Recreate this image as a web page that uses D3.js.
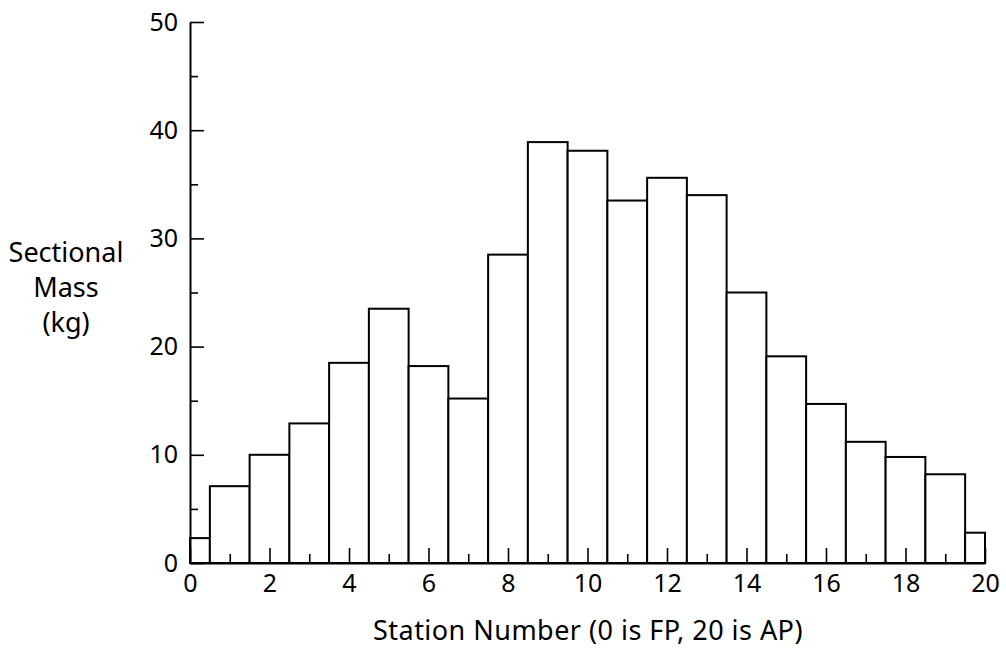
<!DOCTYPE html>
<html><head><meta charset="utf-8">
<script src="https://cdn.jsdelivr.net/npm/d3@7"></script>
<style>body{margin:0;background:#fff}text{font-family:"Noto Sans",sans-serif;fill:#000}</style>
</head><body><svg id="c" width="1006" height="651"></svg>
<script>
const stations = [0,1,2,3,4,5,6,7,8,9,10,11,12,13,14,15,16,17,18,19,20];
const mass = [2.3,7.1,10.0,12.9,18.5,23.5,18.2,15.2,28.5,38.9,38.1,33.5,35.6,34.0,25.0,19.1,14.7,11.2,9.8,8.2,2.8];
const xMajor = [0,2,4,6,8,10,12,14,16,18,20];
const xMinor = [1,3,5,7,9,11,13,15,17,19];
const yMajor = [0,10,20,30,40,50];
const yMinor = [5,15,25,35,45];
const yLabel = ["Sectional","Mass","(kg)"];
const xLabel = "Station Number (0 is FP, 20 is AP)";

const svg = d3.select("#c");
const x = d3.scaleLinear().domain([0,20]).range([190,985]);
const y = d3.scaleLinear().domain([0,50]).range([563,22]);

svg.append("g").selectAll("rect").data(stations).join("rect")
  .attr("x", d => x(Math.max(0,d-0.5)))
  .attr("width", d => x(Math.min(20,d+0.5)) - x(Math.max(0,d-0.5)))
  .attr("y", (d,i) => y(mass[i]))
  .attr("height", (d,i) => y(0) - y(mass[i]))
  .attr("fill","#fff").attr("stroke","#000").attr("stroke-width",2);

function style(g){ g.select(".domain").attr("stroke","#000").attr("stroke-width",2);
  g.selectAll(".tick line").attr("stroke","#000").attr("stroke-width",1.6);
  g.selectAll("text").attr("font-size",25).attr("font-family","'Noto Sans',sans-serif"); }

svg.append("g").attr("transform","translate(190,0)")
  .call(d3.axisLeft(y).tickValues(yMajor).tickSizeInner(-14).tickSizeOuter(0).tickPadding(12).tickFormat(d3.format("d")))
  .call(style);
svg.append("g").attr("transform","translate(190,0)")
  .call(d3.axisLeft(y).tickValues(yMinor).tickSizeInner(-8).tickSizeOuter(0).tickFormat(""))
  .call(style).call(g=>g.select(".domain").remove());
svg.append("g").attr("transform","translate(0,563)")
  .call(d3.axisBottom(x).tickValues(xMajor).tickSizeInner(-15).tickSizeOuter(0).tickPadding(11).tickFormat(d3.format("d")))
  .call(style);
svg.append("g").attr("transform","translate(0,563)")
  .call(d3.axisBottom(x).tickValues(xMinor).tickSizeInner(-9).tickSizeOuter(0).tickFormat(""))
  .call(style).call(g=>g.select(".domain").remove());

svg.append("g").selectAll("text").data(yLabel).join("text")
  .attr("x",66).attr("y",(d,i)=>262+i*35).attr("text-anchor","middle").attr("font-size",27).text(d=>d);
const xl = svg.append("text").attr("x",588).attr("y",640).attr("text-anchor","middle").attr("font-size",27).text(xLabel);
const w = xl.node().getComputedTextLength();
xl.attr("letter-spacing", Math.max(0,(430 - w)/xLabel.length).toFixed(2));
</script></body></html>
